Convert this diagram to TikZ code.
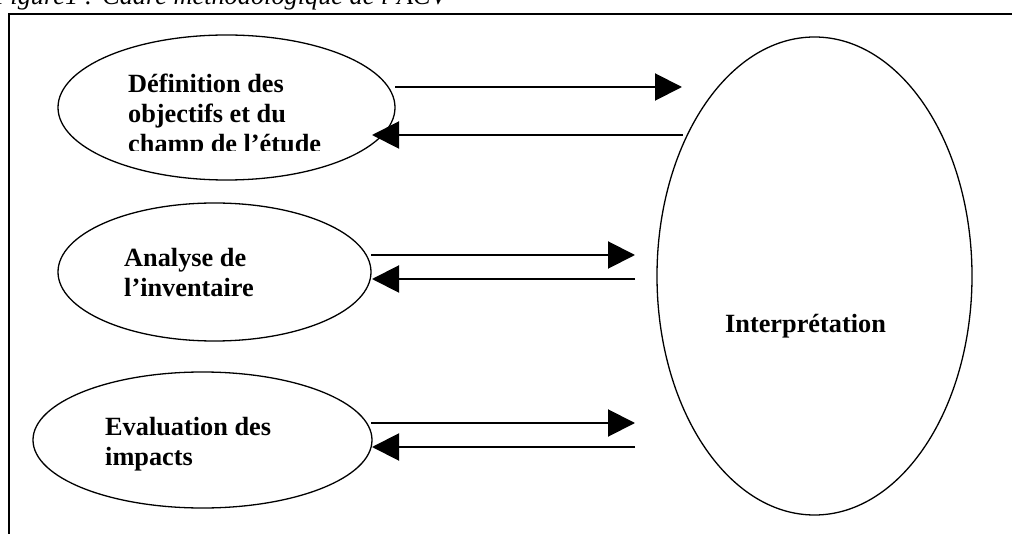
\documentclass[tikz,border=0pt]{standalone}
\usepackage{fontspec}
\setmainfont{Liberation Serif}
\usetikzlibrary{shapes.geometric,arrows.meta}
\begin{document}
\begin{tikzpicture}[x=1bp,y=-1bp,
  oval/.style={draw,ellipse,line width=1.3bp,inner sep=0pt,outer sep=0pt},
  lbl/.style={anchor=base west,inner sep=0pt,font=\fontsize{26.4pt}{30pt}\selectfont\bfseries},
  caption/.style={anchor=base east,inner sep=0pt,font=\fontsize{26.4pt}{30pt}\selectfont\itshape},
  frame/.style={line width=2.2bp},
  flow/.style={line width=2bp,-{Triangle[length=27bp,width=27bp]}},
]
\useasboundingbox (0,0) rectangle (1012,534);
\clip (0,0) rectangle (1012,534);
% caption (cut by the top edge)
\node[caption] (cap) at (447,5) {Figure1 : Cadre méthodologique de l’ACV};
% frame (runs past the right and bottom edges)
\draw[frame] (9,14) rectangle (1040,570);
% ellipses
\node[oval,minimum width=337bp,minimum height=145bp] (e1) at (226.5,107.5) {};
\node[oval,minimum width=313bp,minimum height=138bp] (e2) at (214.5,272) {};
\node[oval,minimum width=339bp,minimum height=136bp] (e3) at (202.5,440) {};
\node[oval,minimum width=315bp,minimum height=478bp] (e4) at (814.5,276) {};
% texts
\node[lbl] (t1a) at (128,93) {Définition des};
\node[lbl] (t1b) at (128,123) {objectifs et du};
\begin{scope}
  \clip (0,0) rectangle (1012,151);
  \node[lbl] (t1c) at (128,153) {champ de l’étude};
\end{scope}
\node[lbl] (t2a) at (124,267) {Analyse de};
\node[lbl] (t2b) at (124,297) {l’inventaire};
\node[lbl] (t3a) at (105,435) {Evaluation des};
\node[lbl] (t3b) at (105,465) {impacts};
\node[lbl] (t4) at (725,333) {Interprétation};
% arrow end points
\coordinate (a1s) at (395,87);  \coordinate (a1e) at (682,87);
\coordinate (b1s) at (683,135); \coordinate (b1e) at (372,135);
\coordinate (a2s) at (371,255); \coordinate (a2e) at (635,255);
\coordinate (b2s) at (635,279); \coordinate (b2e) at (372,279);
\coordinate (a3s) at (371,423); \coordinate (a3e) at (635,423);
\coordinate (b3s) at (635,447); \coordinate (b3e) at (372,447);
% arrows
\draw[flow] (a1s) -- (a1e);
\draw[flow] (b1s) -- (b1e);
\draw[flow] (a2s) -- (a2e);
\draw[flow] (b2s) -- (b2e);
\draw[flow] (a3s) -- (a3e);
\draw[flow] (b3s) -- (b3e);
\end{tikzpicture}
\end{document}
